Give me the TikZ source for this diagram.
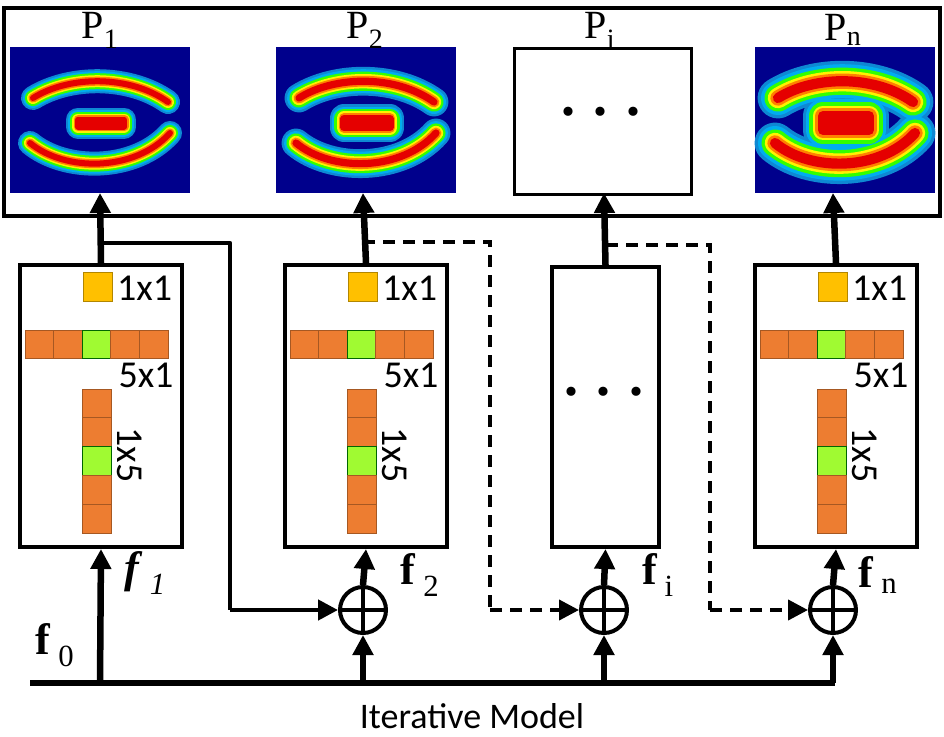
\documentclass[tikz,border=0pt]{standalone}
\usepackage{fontspec}
\setmainfont{Liberation Serif}
\newfontfamily\carl{Carlito}
\usetikzlibrary{arrows.meta}
\definecolor{jblue}{RGB}{0,0,140}
\definecolor{kor}{RGB}{237,125,49}
\definecolor{kgr}{RGB}{160,250,50}
\definecolor{kye}{RGB}{255,192,0}
\tikzset{
  tip/.style={-{Triangle[length=20pt,width=20pt]}},
  ln/.style={line width=6.5pt,tip},
  pl/.style={line width=6.5pt},
  dl/.style={line width=4pt,dash pattern=on 12pt off 8pt},
  dla/.style={dl,tip},
  blk/.style={draw,line width=4pt,fill=white},
  cell/.style={draw=kor!70!black,line width=1pt,fill=kor},
  gcell/.style={draw=green!40!black,line width=1pt,fill=kgr},
  lab/.style={font=\carl\fontsize{38}{38}\selectfont,inner sep=0},
  plab/.style={font=\fontsize{40}{40}\selectfont,inner sep=0},
  fl/.style={font=\fontsize{44}{44}\selectfont,inner sep=0},
  sum/.style={circle,draw,line width=4pt,minimum size=46pt,inner sep=0,
    path picture={\draw[line width=4pt] (path picture bounding box.north)--(path picture bounding box.south)
      (path picture bounding box.west)--(path picture bounding box.east);}}
}
\newcommand{\heatmap}[3]{%
\begin{scope}[shift={(#1,#2)}]
\fill[jblue] (0,0) rectangle (180,146);
\foreach \w/\c in {24/cyan!70!blue,20/cyan,16/green!80!yellow,12/yellow,9/orange,6/red!90!black}{
 \pgfmathsetmacro\ww{\w*#3}
 \draw[line width=\ww pt,color=\c,line cap=round,line join=round] (23,51) .. controls (60,28) and (120,28) .. (158,55);
 \draw[line width=\ww pt,color=\c,line cap=round,line join=round] (20,96) .. controls (55,125) and (125,125) .. (160,86);
 \pgfmathsetmacro\hh{max(0,5*#3-1.5)}
 \draw[line width=\ww pt,color=\c,line join=round,fill=\c] (68,76-\hh) rectangle (114,76+\hh);
}
\end{scope}}
\newcommand{\kernset}[2]{%
\begin{scope}[shift={(#1,#2)}]
\draw[draw=kye!70!black,line width=1pt,fill=kye] (65,9) rectangle (94,38);
\node[lab,anchor=west] at (99,25) {1x1};
\foreach \i in {0,...,4}{\ifnum\i=2 \draw[gcell] (7+28.6*\i,67) rectangle (7+28.6*\i+28.6,95);\else \draw[cell] (7+28.6*\i,67) rectangle (7+28.6*\i+28.6,95);\fi}
\node[lab] at (128,112) {5x1};
\foreach \i in {0,...,4}{\ifnum\i=2 \draw[gcell] (64,126+28.8*\i) rectangle (93,126+28.8*\i+28.8);\else \draw[cell] (64,126+28.8*\i) rectangle (93,126+28.8*\i+28.8);\fi}
\node[lab,rotate=-90] at (112,192) {1x5};
\end{scope}}
\begin{document}
\begin{tikzpicture}[x=1pt,y=-1pt]
\useasboundingbox (0,0) rectangle (944,736);
\draw[line width=4pt] (4,8) rectangle (940,216);
\heatmap{10}{47}{1}
\heatmap{276}{47}{1.2}
\heatmap{755}{47}{1.7}
\node[draw,line width=3pt,minimum width=177pt,minimum height=146pt,anchor=north west] (pi) at (513,47) {};
\node[font=\fontsize{56}{56}\selectfont\bfseries] at (601,112) {. . .};
\node[plab] (p1) at (100,30) {P\textsubscript{1}};
\node[plab] (p2) at (365,30) {P\textsubscript{2}};
\node[plab] (pil) at (600,30) {P\textsubscript{i}};
\node[plab] (pn) at (843,30) {P\textsubscript{n}};
\coordinate (i1) at (100,193); \coordinate (i2) at (363,193);
\coordinate (ii) at (604,193); \coordinate (in) at (833,193);
\node[blk,minimum width=162pt,minimum height=282pt,anchor=north west] (b1) at (18,263) {};
\node[blk,minimum width=162pt,minimum height=282pt,anchor=north west] (b2) at (283,263) {};
\node[blk,minimum width=107pt,minimum height=280pt,anchor=north west] (bi) at (550,265) {};
\node[blk,minimum width=162pt,minimum height=282pt,anchor=north west] (bn) at (753,263) {};
\kernset{18}{263}\kernset{283}{263}\kernset{753}{263}
\node[font=\fontsize{56}{56}\selectfont\bfseries] at (604,392) {. . .};
\node[sum] (s2) at (363,610) {};
\node[sum] (si) at (604,610) {};
\node[sum] (sn) at (833,610) {};
\draw[ln] (b1.north) -- (i1);
\draw[ln] (b2.north) -- (i2);
\draw[ln] (bi.north) -- (ii);
\draw[ln] (bn.north) -- (in);
\coordinate (c1) at (100,243); \coordinate (c1r) at (230,243); \coordinate (c1d) at (230,610);
\draw[line width=4.5pt,line join=round] (c1) -- (c1r) -- (c1d);
\draw[line width=4.5pt,tip] (c1d) -- (s2.west);
\coordinate (c2) at (363,242); \coordinate (c2r) at (490,242); \coordinate (c2d) at (490,610);
\draw[dl] (c2) -- (c2r) -- (c2d);
\draw[dla] (c2d) -- (si.west);
\coordinate (c3) at (606,245); \coordinate (c3r) at (710,245); \coordinate (c3d) at (710,610);
\draw[dl] (c3) -- (c3r) -- (c3d);
\draw[dla] (c3d) -- (sn.west);
\coordinate (bl) at (30,683); \coordinate (br) at (835,683);
\draw[pl] (bl) -- (br);
\coordinate (u1) at (100,683); \coordinate (u2) at (363,683); \coordinate (ui) at (604,683); \coordinate (un) at (833,683);
\draw[ln] (u1) -- (b1.south);
\draw[ln] (u2) -- (s2.south);
\draw[ln] (ui) -- (si.south);
\draw[ln] (un) -- (sn.south);
\draw[ln] (s2.north) -- (b2.south);
\draw[ln] (si.north) -- (bi.south);
\draw[ln] (sn.north) -- (bn.south);
\node[fl] (f0) at (55,645) {\textbf{f}\,\textsubscript{0}};
\node[fl] (f1) at (145,573) {\textit{\textbf{f}}\,\textsubscript{\textit{1}}};
\node[fl] (f2) at (420,575) {\textbf{f}\,\textsubscript{2}};
\node[fl] (fi) at (658,575) {\textbf{f}\,\textsubscript{i}};
\node[fl] (fn) at (878,575) {\textbf{f}\,\textsubscript{n}};
\node[font=\carl\fontsize{36}{36}\selectfont,inner sep=0] (t) at (472,716) {Iterative Model};
\end{tikzpicture}
\end{document}
